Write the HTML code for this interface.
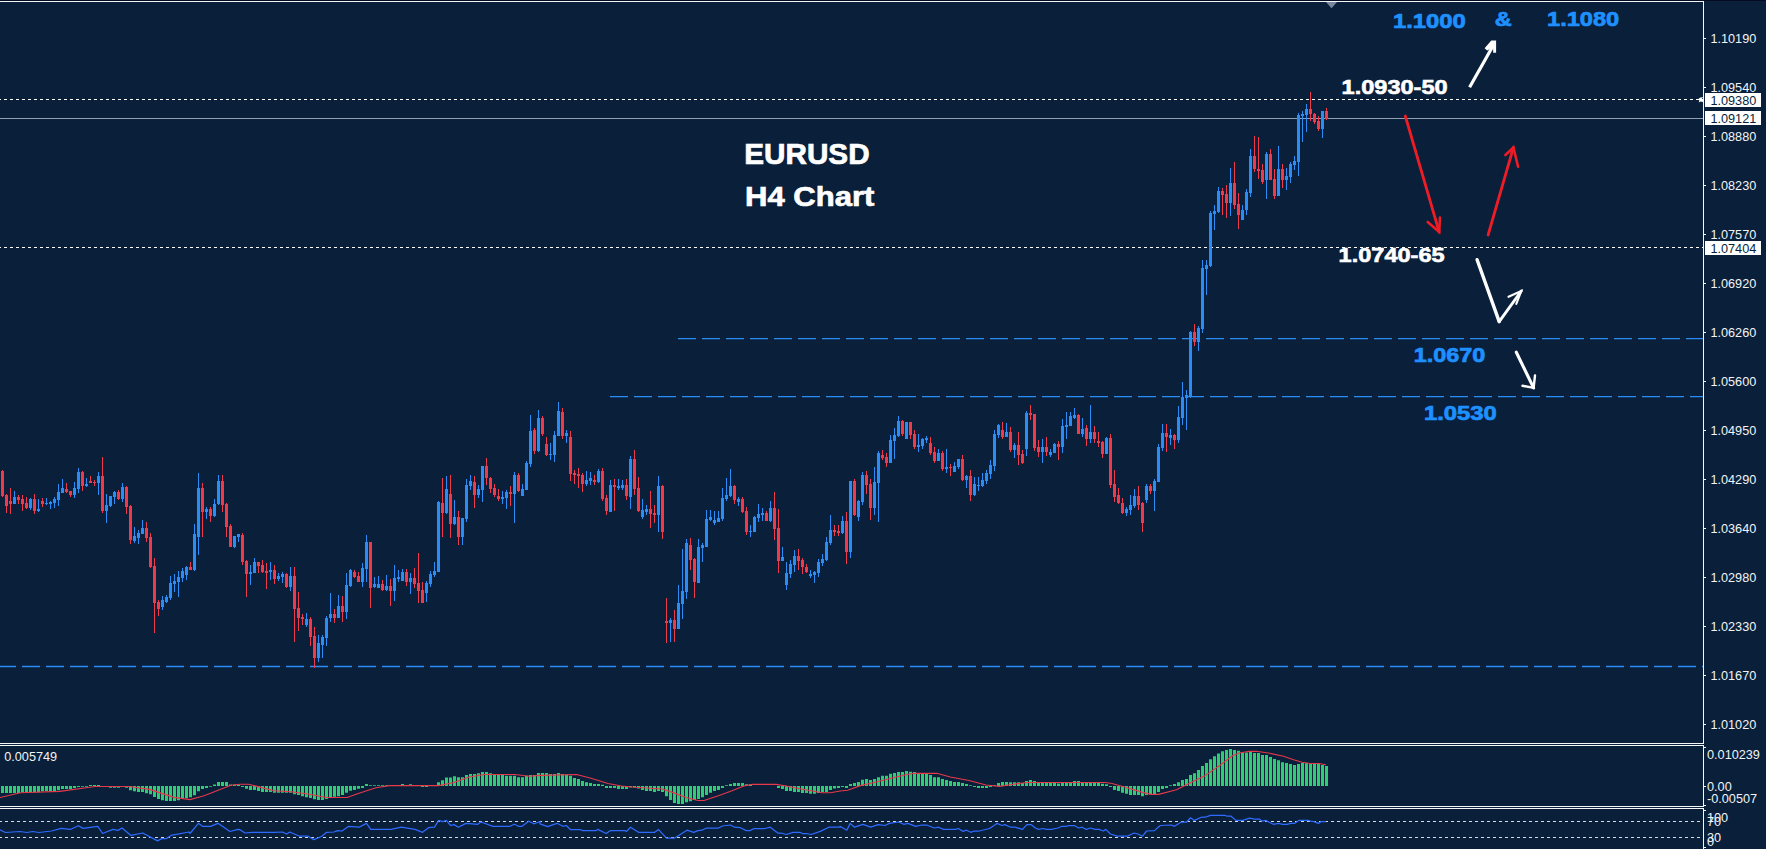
<!DOCTYPE html>
<html><head><meta charset="utf-8"><title>EURUSD H4 Chart</title>
<style>html,body{margin:0;padding:0;background:#091f3a;overflow:hidden}body{width:1766px;height:849px;font-family:"Liberation Sans",sans-serif}svg{display:block;position:absolute;left:0;top:0}text{font-family:"Liberation Sans",sans-serif}.ax{font-size:12.7px;fill:#f2f4f6}.axd{font-size:12.7px;fill:#091f3a}.wb{font-weight:bold;fill:#fff;stroke:#fff;stroke-width:0.6px}.bb{font-weight:bold;fill:#1e90ff;stroke:#1e90ff;stroke-width:0.7px}</style>
</head><body>
<svg width="1766" height="849" viewBox="0 0 1766 849">
<rect x="0" y="0" width="1766" height="849" fill="#091f3a"/>
<rect x="0" y="0" width="1766" height="1" fill="#030c22"/>
<g shape-rendering="crispEdges">
<line x1="-2" y1="99.5" x2="1703" y2="99.5" stroke="#fff" stroke-width="1" stroke-dasharray="3 3"/>
<line x1="-2" y1="247.5" x2="1703" y2="247.5" stroke="#fff" stroke-width="1" stroke-dasharray="3 3"/>
<line x1="0" y1="118.5" x2="1703" y2="118.5" stroke="#929eb2" stroke-width="1"/>
</g>
<g stroke="#2a8cf4" stroke-width="1.4" stroke-dasharray="18 6">
<line x1="678" y1="338.6" x2="1703" y2="338.6"/>
<line x1="610" y1="396.6" x2="1703" y2="396.6"/>
<line x1="-2" y1="666.5" x2="1703" y2="666.5"/>
</g>
<g shape-rendering="crispEdges">
<path d="M14 491v13M30 498v12M38 499v13M46 498v7M50 501v8M54 497v11M58 484v22M62 479v14M74 482v16M78 468v25M86 478v9M98 472v23M106 494v29M110 496v11M114 491v13M122 483v19M134 527v16M138 530v14M142 520v14M162 596v14M166 595v8M170 576v24M174 574v18M178 571v26M182 568v14M186 566v14M194 524v47M198 473v82M206 507v12M214 499v18M218 475v30M234 536v12M238 534v8M250 565v20M254 558v15M270 562v18M278 573v8M282 572v11M290 567v24M306 613v14M318 635v27M322 635v23M326 616v30M330 593v29M338 595v23M346 573v46M350 569v18M362 563v24M366 535v47M374 577v11M378 576v12M386 575v16M394 565v36M398 570v12M402 569v12M410 573v21M426 581v21M430 571v16M434 562v15M438 501v71M446 476v38M454 500v25M462 518v27M466 479v43M470 475v15M478 485v13M482 466v36M502 491v13M506 490v19M514 472v51M522 484v12M526 461v29M530 415v52M538 410v42M550 443v17M554 431v31M558 402v34M566 430v13M586 471v15M590 472v13M598 469v14M610 480v32M618 479v11M622 480v10M630 456v53M642 499v20M646 505v10M658 476v56M670 618v24M678 585v44M682 549v70M686 539v60M698 539v44M702 543v19M706 510v37M710 510v11M714 511v14M718 511v11M722 488v33M726 478v23M730 469v28M738 497v9M750 525v12M754 516v16M758 504v18M762 508v13M770 501v21M782 547v14M786 562v28M790 560v18M794 550v22M810 570v8M814 571v12M818 559v18M822 554v12M826 537v24M830 515v30M842 516v18M850 481v77M858 500v21M862 472v33M874 467v48M878 451v71M890 435v28M894 428v31M898 416v21M906 422v17M918 434v18M922 438v11M926 436v7M938 449v12M946 449v24M954 462v10M958 459v10M966 475v13M974 477v19M978 477v14M982 473v14M986 470v14M990 460v19M994 430v41M998 424v14M1006 423v14M1014 443v15M1026 411v45M1042 439v24M1050 449v8M1054 443v10M1062 419v34M1066 412v27M1070 412v14M1074 408v11M1082 418v19M1090 405v38M1106 437v17M1126 507v9M1130 495v20M1134 489v19M1146 484v19M1154 479v32M1158 444v38M1162 424v27M1170 429v16M1178 406v37M1182 382v43M1186 390v40M1190 331v67M1198 326v25M1202 260v73M1206 260v35M1210 211v56M1214 205v25M1218 187v26M1230 168v48M1242 205v15M1246 189v26M1250 149v48M1266 152v47M1278 146v50M1286 168v22M1290 162v21M1294 156v14M1298 113v63M1302 111v31M1306 104v28M1322 111v27" stroke="#2a8cf4" stroke-width="1" fill="none" transform="translate(0.5,0)"/>
<path d="M2 470v27M6 494v19M10 488v26M18 495v9M22 495v16M26 497v12M34 494v20M42 498v9M66 483v10M70 491v6M82 471v20M90 476v7M94 480v6M102 457v56M118 490v10M126 486v28M130 505v39M146 522v20M150 533v35M154 558v75M158 600v16M190 562v8M202 483v54M210 507v15M222 475v37M226 503v34M230 524v23M242 533v32M246 560v37M258 562v11M262 560v13M266 563v26M274 565v19M286 573v15M294 567v75M298 592v39M302 614v11M310 617v29M314 627v41M334 609v14M342 596v26M354 570v8M358 572v10M370 542v66M382 580v11M390 579v27M406 569v17M414 568v20M418 553v50M422 582v21M442 478v59M450 475v63M458 511v34M474 476v32M486 458v27M490 477v16M494 484v13M498 489v12M510 486v20M518 473v19M534 428v26M542 416v20M546 437v19M562 408v31M570 431v50M574 470v14M578 468v20M582 473v19M594 475v10M602 468v33M606 495v20M614 479v32M626 479v21M634 450v45M638 477v35M650 491v37M654 505v18M662 485v54M666 598v45M674 610v32M690 538v32M694 558v40M734 485v19M742 497v16M746 507v28M766 511v10M774 492v48M778 509v64M798 549v21M802 558v16M806 564v9M834 525v11M838 525v11M846 512v52M854 479v37M866 471v23M870 479v41M882 450v10M886 453v14M902 420v16M910 422v17M914 430v19M930 437v18M934 447v16M942 451v20M950 464v12M962 455v26M970 470v31M1002 422v17M1010 427v25M1018 432v33M1022 450v14M1030 405v15M1034 414v37M1038 440v17M1046 437v19M1058 441v19M1078 414v20M1086 425v21M1094 426v17M1098 432v15M1102 441v17M1110 434v54M1114 470v32M1118 488v16M1122 498v16M1138 486v24M1142 502v30M1150 484v10M1166 424v28M1174 434v15M1194 324v22M1222 188v27M1226 185v33M1234 162v47M1238 193v36M1254 136v36M1258 137v42M1262 164v20M1270 149v31M1274 169v30M1282 164v24M1310 92v29M1314 113v11M1318 116v15M1326 108v12" stroke="#ee3a4a" stroke-width="1" fill="none" transform="translate(0.5,0)"/>
<path d="M13 497h3v7h-3zM29 499h3v9h-3zM37 509h3v2h-3zM45 503h3v1h-3zM49 502h3v2h-3zM53 499h3v4h-3zM57 492h3v8h-3zM61 488h3v5h-3zM73 488h3v7h-3zM77 472h3v17h-3zM85 484h3v2h-3zM97 476h3v7h-3zM105 505h3v6h-3zM109 496h3v10h-3zM113 492h3v5h-3zM121 487h3v12h-3zM133 536h3v5h-3zM137 533h3v5h-3zM141 528h3v6h-3zM161 600h3v7h-3zM165 597h3v5h-3zM169 583h3v15h-3zM173 581h3v3h-3zM177 577h3v5h-3zM181 571h3v7h-3zM185 567h3v8h-3zM193 534h3v36h-3zM197 488h3v49h-3zM205 509h3v3h-3zM213 504h3v12h-3zM217 481h3v23h-3zM233 536h3v11h-3zM237 534h3v3h-3zM249 572h3v2h-3zM253 562h3v11h-3zM269 570h3v2h-3zM277 576h3v3h-3zM281 574h3v3h-3zM289 576h3v11h-3zM305 619h3v6h-3zM317 643h3v15h-3zM321 637h3v8h-3zM325 618h3v20h-3zM329 614h3v4h-3zM337 606h3v12h-3zM345 585h3v27h-3zM349 570h3v16h-3zM361 568h3v14h-3zM365 542h3v27h-3zM373 584h3v3h-3zM377 584h3v4h-3zM385 586h3v4h-3zM393 578h3v13h-3zM397 577h3v2h-3zM401 572h3v9h-3zM409 578h3v4h-3zM425 583h3v10h-3zM429 574h3v10h-3zM433 571h3v4h-3zM437 502h3v70h-3zM445 489h3v24h-3zM453 517h3v7h-3zM461 518h3v19h-3zM465 485h3v34h-3zM469 481h3v5h-3zM477 489h3v6h-3zM481 466h3v24h-3zM501 497h3v2h-3zM505 492h3v6h-3zM513 475h3v19h-3zM521 489h3v7h-3zM525 463h3v27h-3zM529 431h3v33h-3zM537 418h3v33h-3zM549 454h3v1h-3zM553 435h3v20h-3zM557 411h3v25h-3zM565 433h3v3h-3zM585 480h3v4h-3zM589 478h3v3h-3zM597 471h3v11h-3zM609 485h3v27h-3zM617 486h3v2h-3zM621 485h3v3h-3zM629 459h3v38h-3zM641 510h3v7h-3zM645 509h3v3h-3zM657 486h3v29h-3zM669 620h3v3h-3zM677 603h3v26h-3zM681 591h3v13h-3zM685 543h3v49h-3zM697 547h3v36h-3zM701 545h3v3h-3zM705 519h3v28h-3zM709 517h3v3h-3zM713 520h3v3h-3zM717 518h3v4h-3zM721 498h3v21h-3zM725 495h3v4h-3zM729 486h3v10h-3zM737 499h3v3h-3zM749 531h3v1h-3zM753 517h3v15h-3zM757 514h3v4h-3zM761 513h3v2h-3zM769 508h3v13h-3zM781 557h3v4h-3zM785 573h3v12h-3zM789 564h3v10h-3zM793 556h3v9h-3zM809 574h3v2h-3zM813 572h3v3h-3zM817 562h3v11h-3zM821 559h3v4h-3zM825 542h3v18h-3zM829 530h3v13h-3zM841 521h3v12h-3zM849 481h3v71h-3zM857 501h3v16h-3zM861 475h3v27h-3zM873 482h3v26h-3zM877 453h3v30h-3zM889 440h3v23h-3zM893 435h3v6h-3zM897 421h3v15h-3zM905 422h3v17h-3zM917 445h3v2h-3zM921 439h3v7h-3zM925 438h3v2h-3zM937 453h3v8h-3zM945 467h3v2h-3zM953 466h3v6h-3zM957 459h3v8h-3zM965 476h3v4h-3zM973 484h3v11h-3zM977 485h3v1h-3zM981 480h3v6h-3zM985 473h3v8h-3zM989 465h3v9h-3zM993 434h3v32h-3zM997 425h3v10h-3zM1005 432h3v5h-3zM1013 445h3v5h-3zM1025 413h3v36h-3zM1041 447h3v5h-3zM1049 452h3v3h-3zM1053 444h3v9h-3zM1061 426h3v21h-3zM1065 425h3v2h-3zM1069 416h3v10h-3zM1073 415h3v3h-3zM1081 429h3v5h-3zM1089 432h3v7h-3zM1105 438h3v16h-3zM1125 509h3v4h-3zM1129 505h3v5h-3zM1133 496h3v10h-3zM1145 486h3v14h-3zM1153 481h3v10h-3zM1157 447h3v35h-3zM1161 433h3v15h-3zM1169 435h3v3h-3zM1177 417h3v23h-3zM1181 397h3v21h-3zM1185 395h3v3h-3zM1189 332h3v65h-3zM1197 328h3v14h-3zM1201 268h3v61h-3zM1205 265h3v4h-3zM1209 213h3v53h-3zM1213 211h3v3h-3zM1217 191h3v21h-3zM1229 183h3v20h-3zM1241 210h3v10h-3zM1245 192h3v18h-3zM1249 156h3v37h-3zM1265 154h3v26h-3zM1277 169h3v27h-3zM1285 176h3v4h-3zM1289 164h3v13h-3zM1293 161h3v4h-3zM1297 115h3v47h-3zM1301 114h3v2h-3zM1305 109h3v6h-3zM1321 111h3v18h-3z" fill="#2a8cf4"/>
<path d="M1 471h3v25h-3zM5 495h3v11h-3zM9 501h3v3h-3zM17 497h3v3h-3zM21 499h3v5h-3zM25 503h3v5h-3zM33 499h3v12h-3zM41 501h3v3h-3zM65 489h3v3h-3zM69 491h3v4h-3zM81 472h3v14h-3zM89 481h3v2h-3zM93 482h3v1h-3zM101 476h3v35h-3zM117 492h3v7h-3zM125 487h3v20h-3zM129 506h3v34h-3zM145 528h3v10h-3zM149 537h3v30h-3zM153 566h3v37h-3zM157 602h3v7h-3zM189 567h3v3h-3zM201 488h3v24h-3zM209 509h3v7h-3zM221 481h3v24h-3zM225 504h3v23h-3zM229 526h3v21h-3zM241 535h3v27h-3zM245 561h3v13h-3zM257 562h3v4h-3zM261 565h3v7h-3zM265 571h3v2h-3zM273 570h3v9h-3zM285 574h3v13h-3zM293 576h3v33h-3zM297 608h3v10h-3zM301 617h3v2h-3zM309 619h3v18h-3zM313 636h3v22h-3zM333 614h3v4h-3zM341 606h3v6h-3zM353 572h3v5h-3zM357 576h3v6h-3zM369 542h3v46h-3zM381 584h3v6h-3zM389 586h3v5h-3zM405 572h3v10h-3zM413 578h3v6h-3zM417 583h3v8h-3zM421 590h3v13h-3zM441 503h3v10h-3zM449 494h3v30h-3zM457 517h3v20h-3zM473 482h3v13h-3zM485 466h3v12h-3zM489 478h3v11h-3zM493 488h3v7h-3zM497 496h3v3h-3zM509 492h3v2h-3zM517 475h3v16h-3zM533 430h3v21h-3zM541 418h3v16h-3zM545 444h3v11h-3zM561 412h3v24h-3zM569 437h3v37h-3zM573 473h3v2h-3zM577 474h3v2h-3zM581 475h3v9h-3zM593 480h3v2h-3zM601 471h3v28h-3zM605 498h3v13h-3zM613 485h3v2h-3zM625 485h3v11h-3zM633 459h3v30h-3zM637 488h3v23h-3zM649 509h3v5h-3zM653 513h3v2h-3zM661 486h3v46h-3zM665 621h3v2h-3zM673 620h3v9h-3zM689 545h3v15h-3zM693 559h3v23h-3zM733 486h3v14h-3zM741 499h3v13h-3zM745 511h3v21h-3zM765 513h3v8h-3zM773 508h3v21h-3zM777 528h3v33h-3zM797 556h3v5h-3zM801 560h3v7h-3zM805 567h3v5h-3zM833 530h3v2h-3zM837 531h3v2h-3zM845 521h3v31h-3zM853 481h3v34h-3zM865 475h3v10h-3zM869 484h3v24h-3zM881 455h3v3h-3zM885 457h3v6h-3zM901 421h3v13h-3zM909 422h3v13h-3zM913 434h3v13h-3zM929 443h3v10h-3zM933 452h3v9h-3zM941 453h3v16h-3zM949 467h3v1h-3zM961 459h3v21h-3zM969 476h3v19h-3zM1001 430h3v7h-3zM1009 432h3v18h-3zM1017 445h3v10h-3zM1021 454h3v9h-3zM1029 413h3v2h-3zM1033 414h3v34h-3zM1037 447h3v5h-3zM1045 447h3v5h-3zM1057 444h3v3h-3zM1077 415h3v19h-3zM1085 428h3v11h-3zM1093 432h3v7h-3zM1097 441h3v2h-3zM1101 442h3v12h-3zM1109 438h3v47h-3zM1113 484h3v13h-3zM1117 495h3v8h-3zM1121 503h3v10h-3zM1137 496h3v9h-3zM1141 503h3v20h-3zM1149 486h3v5h-3zM1165 433h3v4h-3zM1173 435h3v5h-3zM1193 332h3v10h-3zM1221 191h3v4h-3zM1225 194h3v9h-3zM1233 183h3v22h-3zM1237 204h3v11h-3zM1253 156h3v13h-3zM1257 169h3v2h-3zM1261 170h3v12h-3zM1269 154h3v26h-3zM1273 179h3v17h-3zM1281 169h3v11h-3zM1309 109h3v5h-3zM1313 114h3v8h-3zM1317 121h3v8h-3zM1325 111h3v8h-3z" fill="#ee3a4a"/>
</g>
<path d="M1 786h3v6.9h-3zM5 786h3v6.9h-3zM9 786h3v6.9h-3zM13 786h3v6.9h-3zM17 786h3v6.9h-3zM21 786h3v6.3h-3zM25 786h3v6.3h-3zM29 786h3v6.3h-3zM33 786h3v6.3h-3zM37 786h3v6.3h-3zM41 786h3v5.2h-3zM45 786h3v4.9h-3zM49 786h3v4.9h-3zM53 786h3v4.9h-3zM57 786h3v4.2h-3zM61 786h3v3.1h-3zM65 786h3v3.1h-3zM69 786h3v3.1h-3zM73 786h3v2.0h-3zM77 786h3v1.0h-3zM81 786h3v0.8h-3zM85 786h3v0.8h-3zM89 785.0h3v1.0h-3zM93 785.0h3v1.0h-3zM97 785.0h3v1.0h-3zM109 786h3v1.8h-3zM113 786h3v1.8h-3zM117 786h3v1.8h-3zM125 786h3v1.8h-3zM129 786h3v4.2h-3zM133 786h3v5.2h-3zM137 786h3v6.1h-3zM141 786h3v6.1h-3zM145 786h3v7.2h-3zM149 786h3v8.3h-3zM153 786h3v11.0h-3zM157 786h3v13.0h-3zM161 786h3v14.3h-3zM165 786h3v15.1h-3zM169 786h3v15.1h-3zM173 786h3v15.1h-3zM177 786h3v14.3h-3zM181 786h3v12.9h-3zM185 786h3v12.2h-3zM189 786h3v11.3h-3zM193 786h3v9.2h-3zM197 786h3v5.2h-3zM201 786h3v3.1h-3zM205 786h3v2.0h-3zM209 786h3v0.8h-3zM213 784.4h3v1.6h-3zM217 782.1h3v3.9h-3zM221 782.1h3v3.9h-3zM225 782.1h3v3.9h-3zM229 784.4h3v1.6h-3zM233 784.4h3v1.6h-3zM237 784.8h3v1.2h-3zM241 786h3v1.0h-3zM245 786h3v2.7h-3zM249 786h3v3.9h-3zM253 786h3v3.9h-3zM257 786h3v5.0h-3zM261 786h3v5.9h-3zM265 786h3v5.9h-3zM269 786h3v5.9h-3zM273 786h3v6.8h-3zM277 786h3v6.8h-3zM281 786h3v6.8h-3zM285 786h3v6.8h-3zM289 786h3v6.8h-3zM293 786h3v8.2h-3zM297 786h3v9.0h-3zM301 786h3v10.2h-3zM305 786h3v11.2h-3zM309 786h3v11.9h-3zM313 786h3v13.2h-3zM317 786h3v14.1h-3zM321 786h3v14.1h-3zM325 786h3v12.9h-3zM329 786h3v11.5h-3zM333 786h3v10.7h-3zM337 786h3v10.2h-3zM341 786h3v9.0h-3zM345 786h3v6.8h-3zM349 786h3v4.8h-3zM353 786h3v3.9h-3zM357 786h3v2.7h-3zM361 786h3v1.9h-3zM365 784.0h3v2.0h-3zM369 785.2h3v0.8h-3zM373 785.2h3v0.8h-3zM377 785.2h3v0.8h-3zM381 785.2h3v0.8h-3zM385 785.2h3v0.8h-3zM401 784.0h3v2.0h-3zM409 784.3h3v1.7h-3zM421 786h3v1.0h-3zM425 786h3v1.0h-3zM437 782.3h3v3.7h-3zM441 780.2h3v5.8h-3zM445 777.5h3v8.5h-3zM449 777.5h3v8.5h-3zM453 776.3h3v9.7h-3zM457 777.2h3v8.8h-3zM461 777.2h3v8.8h-3zM465 775.1h3v10.9h-3zM469 774.1h3v11.9h-3zM473 774.1h3v11.9h-3zM477 773.3h3v12.7h-3zM481 772.1h3v13.9h-3zM485 772.1h3v13.9h-3zM489 773.3h3v12.7h-3zM493 774.6h3v11.4h-3zM497 774.6h3v11.4h-3zM501 774.6h3v11.4h-3zM505 775.8h3v10.2h-3zM509 775.8h3v10.2h-3zM513 775.8h3v10.2h-3zM517 777.2h3v8.8h-3zM521 777.2h3v8.8h-3zM525 775.8h3v10.2h-3zM529 775.1h3v10.9h-3zM533 775.1h3v10.9h-3zM537 773.0h3v13.0h-3zM541 772.9h3v13.1h-3zM545 772.9h3v13.1h-3zM549 774.1h3v11.9h-3zM553 774.1h3v11.9h-3zM557 772.9h3v13.1h-3zM561 774.1h3v11.9h-3zM565 774.6h3v11.4h-3zM569 775.8h3v10.2h-3zM573 778.0h3v8.0h-3zM577 778.9h3v7.1h-3zM581 780.9h3v5.1h-3zM585 782.3h3v3.7h-3zM589 783.1h3v2.9h-3zM593 784.0h3v2.0h-3zM597 784.0h3v2.0h-3zM601 784.8h3v1.2h-3zM605 786h3v1.9h-3zM609 786h3v1.9h-3zM613 786h3v1.9h-3zM617 786h3v3.1h-3zM621 786h3v3.1h-3zM625 786h3v3.1h-3zM629 786h3v1.4h-3zM633 786h3v1.4h-3zM637 786h3v2.5h-3zM641 786h3v3.9h-3zM645 786h3v5.1h-3zM649 786h3v5.1h-3zM653 786h3v6.1h-3zM657 786h3v5.1h-3zM661 786h3v6.1h-3zM665 786h3v10.2h-3zM669 786h3v14.1h-3zM673 786h3v17.0h-3zM677 786h3v18.0h-3zM681 786h3v18.0h-3zM685 786h3v16.3h-3zM689 786h3v15.3h-3zM693 786h3v14.1h-3zM697 786h3v12.9h-3zM701 786h3v11.2h-3zM705 786h3v9.0h-3zM709 786h3v6.8h-3zM713 786h3v5.1h-3zM717 786h3v3.9h-3zM721 786h3v1.9h-3zM725 785.2h3v0.8h-3zM729 784.0h3v2.0h-3zM733 783.1h3v2.9h-3zM737 783.1h3v2.9h-3zM741 783.1h3v2.9h-3zM745 784.3h3v1.7h-3zM749 784.3h3v1.7h-3zM777 786h3v1.9h-3zM781 786h3v3.1h-3zM785 786h3v5.1h-3zM789 786h3v5.1h-3zM793 786h3v6.1h-3zM797 786h3v6.1h-3zM801 786h3v7.0h-3zM805 786h3v7.0h-3zM809 786h3v7.8h-3zM813 786h3v7.8h-3zM817 786h3v7.0h-3zM821 786h3v6.1h-3zM825 786h3v6.1h-3zM829 786h3v3.9h-3zM833 786h3v2.5h-3zM837 786h3v1.9h-3zM841 786h3v1.0h-3zM845 786h3v1.9h-3zM849 784.0h3v2.0h-3zM853 783.1h3v2.9h-3zM857 781.9h3v4.1h-3zM861 779.7h3v6.3h-3zM865 778.9h3v7.1h-3zM869 780.1h3v5.9h-3zM873 778.9h3v7.1h-3zM877 777.2h3v8.8h-3zM881 775.8h3v10.2h-3zM885 775.8h3v10.2h-3zM889 773.8h3v12.2h-3zM893 772.9h3v13.1h-3zM897 772.1h3v13.9h-3zM901 772.1h3v13.9h-3zM905 770.9h3v15.1h-3zM909 771.7h3v14.3h-3zM913 772.1h3v13.9h-3zM917 773.3h3v12.7h-3zM921 773.3h3v12.7h-3zM925 774.1h3v11.9h-3zM929 775.1h3v10.9h-3zM933 777.2h3v8.8h-3zM937 777.2h3v8.8h-3zM941 778.9h3v7.1h-3zM945 780.1h3v5.9h-3zM949 780.9h3v5.1h-3zM953 781.9h3v4.1h-3zM957 781.9h3v4.1h-3zM961 783.1h3v2.9h-3zM965 784.0h3v2.0h-3zM969 785.2h3v0.8h-3zM973 786h3v1.0h-3zM977 786h3v1.9h-3zM981 786h3v1.9h-3zM985 786h3v1.9h-3zM989 786h3v1.0h-3zM993 785.2h3v0.8h-3zM997 783.1h3v2.9h-3zM1001 781.9h3v4.1h-3zM1005 781.9h3v4.1h-3zM1009 782.3h3v3.7h-3zM1013 782.3h3v3.7h-3zM1017 782.3h3v3.7h-3zM1021 783.1h3v2.9h-3zM1025 780.9h3v5.1h-3zM1029 780.1h3v5.9h-3zM1033 780.9h3v5.1h-3zM1037 781.9h3v4.1h-3zM1041 782.3h3v3.7h-3zM1045 782.3h3v3.7h-3zM1049 782.3h3v3.7h-3zM1053 783.1h3v2.9h-3zM1057 783.6h3v2.4h-3zM1061 782.6h3v3.4h-3zM1065 781.9h3v4.1h-3zM1069 781.9h3v4.1h-3zM1073 780.9h3v5.1h-3zM1077 780.9h3v5.1h-3zM1081 781.9h3v4.1h-3zM1085 782.3h3v3.7h-3zM1089 782.3h3v3.7h-3zM1093 782.3h3v3.7h-3zM1097 782.6h3v3.4h-3zM1101 783.8h3v2.2h-3zM1105 784.2h3v1.8h-3zM1109 786h3v1.0h-3zM1113 786h3v3.9h-3zM1117 786h3v5.1h-3zM1121 786h3v6.8h-3zM1125 786h3v7.8h-3zM1129 786h3v9.0h-3zM1133 786h3v9.0h-3zM1137 786h3v9.0h-3zM1141 786h3v10.2h-3zM1145 786h3v9.0h-3zM1149 786h3v8.2h-3zM1153 786h3v8.2h-3zM1157 786h3v6.1h-3zM1161 786h3v3.1h-3zM1165 786h3v1.9h-3zM1169 785.2h3v0.8h-3zM1173 784.0h3v2.0h-3zM1177 782.3h3v3.7h-3zM1181 780.1h3v5.9h-3zM1185 778.9h3v7.1h-3zM1189 775.1h3v10.9h-3zM1193 773.3h3v12.7h-3zM1197 769.9h3v16.1h-3zM1201 766.1h3v19.9h-3zM1205 763.1h3v22.9h-3zM1209 759.3h3v26.7h-3zM1213 756.3h3v29.7h-3zM1217 753.4h3v32.6h-3zM1221 751.2h3v34.8h-3zM1225 750.0h3v36.0h-3zM1229 749.1h3v36.9h-3zM1233 750.0h3v36.0h-3zM1237 750.8h3v35.2h-3zM1241 752.5h3v33.5h-3zM1245 752.5h3v33.5h-3zM1249 751.7h3v34.3h-3zM1253 752.9h3v33.1h-3zM1257 752.9h3v33.1h-3zM1261 755.1h3v30.9h-3zM1265 755.1h3v30.9h-3zM1269 757.1h3v28.9h-3zM1273 759.0h3v27.0h-3zM1277 760.2h3v25.8h-3zM1281 762.2h3v23.8h-3zM1285 763.1h3v22.9h-3zM1289 764.1h3v21.9h-3zM1293 764.9h3v21.1h-3zM1297 764.1h3v21.9h-3zM1301 763.1h3v22.9h-3zM1305 763.1h3v22.9h-3zM1309 763.9h3v22.1h-3zM1313 763.9h3v22.1h-3zM1317 763.9h3v22.1h-3zM1321 764.9h3v21.1h-3zM1325 766.1h3v19.9h-3z" fill="#2fcc71"/>
<polyline points="0.0,797.5 20.4,792.8 59.8,791.4 95.0,786.5 129.0,786.5 149.5,789.4 174.0,797.4 190.0,799.6 204.0,795.8 231.0,785.2 240.0,784.2 248.5,784.2 257.0,786.4 274.0,790.7 291.0,791.8 308.0,794.0 326.6,797.5 347.0,797.5 359.0,793.2 376.0,787.8 389.5,785.6 438.7,785.6 454.0,782.5 469.0,777.0 484.6,774.5 515.0,774.5 529.0,776.2 540.0,775.4 576.5,774.5 591.0,778.3 608.0,783.5 621.5,786.0 635.0,787.3 662.3,789.0 672.5,792.4 686.0,797.5 698.0,800.5 704.0,800.5 718.4,795.8 732.0,790.7 743.8,786.0 752.3,784.4 776.0,784.4 786.3,786.0 805.0,789.8 822.0,792.7 830.5,792.7 840.0,791.0 847.6,790.3 860.4,785.6 874.0,782.5 891.0,778.3 908.0,774.2 914.7,773.3 936.8,773.3 950.4,777.0 969.0,780.5 986.0,785.0 999.7,786.4 1010.0,784.7 1026.9,782.5 1105.0,782.5 1112.0,783.5 1125.5,787.3 1142.5,792.4 1151.0,794.4 1158.6,794.4 1176.4,789.8 1190.0,783.0 1205.3,775.4 1219.0,766.0 1232.5,755.8 1239.3,753.0 1249.5,751.3 1256.3,751.3 1270.0,753.3 1283.5,756.3 1293.6,759.7 1302.0,762.3 1310.6,763.5 1319.0,763.5 1326.0,764.7" fill="none" stroke="#e8384a" stroke-width="1.15" stroke-linejoin="round"/>
<g shape-rendering="crispEdges">
<line x1="-1" y1="821.5" x2="1703" y2="821.5" stroke="#d8dce2" stroke-width="1" stroke-dasharray="3 3"/>
<line x1="-1" y1="837.5" x2="1703" y2="837.5" stroke="#d8dce2" stroke-width="1" stroke-dasharray="3 3"/>
</g>
<polyline points="0.0,829.7 5.4,832.5 20.0,831.5 27.0,832.5 32.6,831.5 39.0,832.5 51.6,831.0 61.0,828.4 70.7,829.3 78.5,825.7 83.0,828.4 97.8,826.3 102.6,833.5 112.8,829.3 118.0,830.4 122.0,828.0 131.0,835.4 142.7,833.0 157.6,840.9 161.7,838.6 166.5,838.6 171.0,835.4 189.0,832.0 190.0,833.5 198.4,823.3 202.5,826.3 210.6,826.3 218.0,823.3 230.0,831.5 237.8,829.3 240.0,829.7 245.0,833.0 252.0,832.3 274.0,832.3 282.5,832.0 286.7,834.0 289.8,832.0 299.5,836.2 308.0,836.2 313.9,839.6 321.5,836.5 326.6,832.3 334.0,832.0 337.7,830.6 342.0,831.0 348.7,826.3 359.0,827.2 366.5,823.4 370.8,829.4 391.0,829.4 401.4,827.2 415.0,829.4 422.6,832.3 428.5,827.7 434.5,827.2 438.7,820.4 443.0,821.7 446.4,820.4 450.6,825.5 454.0,824.6 458.3,827.2 466.0,823.4 477.8,824.3 481.0,822.0 493.0,826.3 510.0,826.3 514.3,824.3 518.6,826.3 522.0,826.3 528.8,821.2 533.9,823.8 540.0,821.5 540.0,823.8 547.6,826.7 557.0,823.3 563.0,826.3 566.3,825.5 570.6,829.7 580.8,829.7 582.5,830.6 596.0,830.6 597.8,829.4 606.2,833.5 610.5,830.6 625.0,830.6 626.6,831.4 630.5,827.2 638.5,832.3 654.7,832.3 658.4,829.4 666.5,838.2 674.2,838.2 687.0,830.2 693.7,832.3 698.0,830.6 702.0,830.2 706.5,828.0 718.4,828.0 722.6,826.0 730.3,825.0 734.5,827.2 740.4,827.7 746.4,830.6 750.0,830.6 754.0,828.5 765.0,828.5 770.2,827.2 777.8,833.0 781.0,833.0 786.3,834.5 793.0,832.3 800.0,832.3 802.4,833.5 806.7,833.5 811.0,834.5 820.3,831.4 828.8,827.2 840.0,827.2 840.0,826.3 846.8,830.2 850.2,823.4 854.4,827.2 863.0,824.3 870.6,827.2 878.2,824.6 885.0,825.5 889.3,823.4 898.6,822.0 903.7,824.3 908.0,823.4 915.6,826.3 921.5,825.0 926.6,825.0 934.3,828.0 938.5,827.2 943.6,829.4 955.5,829.4 958.4,828.5 963.0,831.4 966.5,830.2 970.8,832.3 974.0,831.0 979.3,831.0 989.5,828.5 997.0,823.4 1002.0,825.5 1004.8,824.6 1010.7,827.2 1015.0,827.2 1022.6,829.4 1026.9,824.6 1031.0,824.6 1035.3,828.0 1038.7,829.4 1043.0,828.5 1046.4,829.4 1051.5,829.4 1058.0,828.0 1061.7,826.3 1066.0,826.3 1069.0,825.5 1074.4,825.5 1078.7,828.0 1082.0,827.2 1086.3,829.4 1090.5,828.0 1094.8,829.4 1099.0,829.4 1103.3,831.0 1105.8,829.4 1110.5,834.0 1117.0,836.2 1127.0,836.2 1134.0,833.0 1138.0,834.0 1142.5,836.2 1146.7,831.0 1154.4,830.6 1160.3,825.5 1171.3,825.0 1174.4,826.3 1181.5,822.0 1186.6,822.0 1190.5,817.8 1194.3,820.4 1202.0,817.0 1206.0,817.0 1210.4,815.3 1224.9,815.3 1226.5,816.0 1230.8,816.0 1235.9,820.4 1242.7,820.4 1249.5,818.2 1254.6,819.2 1259.7,819.2 1262.0,821.2 1265.6,820.4 1273.3,824.3 1278.4,823.4 1282.6,824.3 1286.9,824.3 1291.0,823.4 1294.5,823.4 1298.7,820.4 1308.0,820.4 1310.6,821.2 1314.0,821.7 1318.3,823.4 1320.8,821.7 1326.0,821.7" fill="none" stroke="#2f6bff" stroke-width="1.25" stroke-linejoin="round"/>
<g shape-rendering="crispEdges" fill="#f4f6f8">
<rect x="0" y="1" width="1704" height="1"/>
<rect x="1703" y="1" width="1" height="743"/>
<rect x="0" y="743" width="1704" height="1"/>
<rect x="0" y="745" width="1704" height="1"/>
<rect x="1703" y="745" width="1" height="62"/>
<rect x="0" y="806" width="1704" height="1"/>
<rect x="0" y="808" width="1704" height="1"/>
<rect x="1703" y="808" width="1" height="41"/>
<rect x="1704" y="38" width="2" height="1"/>
<rect x="1704" y="87" width="2" height="1"/>
<rect x="1704" y="136" width="2" height="1"/>
<rect x="1704" y="185" width="2" height="1"/>
<rect x="1704" y="234" width="2" height="1"/>
<rect x="1704" y="283" width="2" height="1"/>
<rect x="1704" y="332" width="2" height="1"/>
<rect x="1704" y="381" width="2" height="1"/>
<rect x="1704" y="430" width="2" height="1"/>
<rect x="1704" y="479" width="2" height="1"/>
<rect x="1704" y="528" width="2" height="1"/>
<rect x="1704" y="577" width="2" height="1"/>
<rect x="1704" y="626" width="2" height="1"/>
<rect x="1704" y="675" width="2" height="1"/>
<rect x="1704" y="724" width="2" height="1"/>
<rect x="1704" y="747" width="2" height="1"/>
<rect x="1704" y="786" width="2" height="1"/>
<rect x="1704" y="805" width="2" height="1"/>
<rect x="1704" y="810" width="2" height="1"/>
<rect x="1704" y="847" width="2" height="1"/>
</g>
<polygon points="1326,2 1337,2 1331.5,8.2" fill="#78879b"/>
<polygon points="1697.6,99.5 1700.3,97.5 1703,97.3 1703,102 1700.6,101.5 1698.7,102.4 1699.4,100.4" fill="#fff"/><rect x="1702" y="98" width="1" height="1" fill="#2a3a55"/>
<text class="ax" x="1710.4" y="43.2">1.10190</text>
<text class="ax" x="1710.4" y="92.2">1.09540</text>
<text class="ax" x="1710.4" y="141.2">1.08880</text>
<text class="ax" x="1710.4" y="190.2">1.08230</text>
<text class="ax" x="1710.4" y="239.2">1.07570</text>
<text class="ax" x="1710.4" y="288.2">1.06920</text>
<text class="ax" x="1710.4" y="337.2">1.06260</text>
<text class="ax" x="1710.4" y="386.2">1.05600</text>
<text class="ax" x="1710.4" y="435.2">1.04950</text>
<text class="ax" x="1710.4" y="484.2">1.04290</text>
<text class="ax" x="1710.4" y="533.2">1.03640</text>
<text class="ax" x="1710.4" y="582.2">1.02980</text>
<text class="ax" x="1710.4" y="631.2">1.02330</text>
<text class="ax" x="1710.4" y="680.2">1.01670</text>
<text class="ax" x="1710.4" y="729.2">1.01020</text>
<rect x="1705" y="93" width="56" height="14" fill="#fff" shape-rendering="crispEdges"/>
<text class="axd" x="1710.4" y="105.0">1.09380</text>
<rect x="1705" y="111" width="56" height="14" fill="#fff" shape-rendering="crispEdges"/>
<text class="axd" x="1710.4" y="123.0">1.09121</text>
<rect x="1705" y="241" width="56" height="14" fill="#fff" shape-rendering="crispEdges"/>
<text class="axd" x="1710.4" y="253.0">1.07404</text>
<text class="ax" x="1707" y="759">0.010239</text>
<text class="ax" x="1707" y="790.5">0.00</text>
<text class="ax" x="1707" y="803">-0.00507</text>
<text class="ax" x="1707" y="822">100</text>
<text class="ax" x="1707" y="826">70</text>
<text class="ax" x="1707" y="841.5">30</text>
<text class="ax" x="1707" y="846">0</text>
<text class="ax" x="4.2" y="761.3">0.005749</text>
<text class="wb" x="744.3" y="164.0" font-size="28.6" textLength="125.3" lengthAdjust="spacingAndGlyphs" style="stroke-width:0.7px">EURUSD</text>
<text class="wb" x="745.0" y="206.0" font-size="28.4" textLength="129.3" lengthAdjust="spacingAndGlyphs" style="stroke-width:0.7px">H4 Chart</text>
<text class="wb" x="1341.6" y="94.2" font-size="19.9" textLength="106.0" lengthAdjust="spacingAndGlyphs">1.0930-50</text>
<text class="wb" x="1338.6" y="262.2" font-size="19.9" textLength="106.0" lengthAdjust="spacingAndGlyphs">1.0740-65</text>
<text class="bb" x="1393.0" y="27.8" font-size="19.8" textLength="72.8" lengthAdjust="spacingAndGlyphs">1.1000</text>
<text class="bb" x="1494.8" y="26.3" font-size="20.5" textLength="17.0" lengthAdjust="spacingAndGlyphs">&amp;</text>
<text class="bb" x="1547.0" y="26.3" font-size="20.5" textLength="72.2" lengthAdjust="spacingAndGlyphs">1.1080</text>
<text class="bb" x="1413.8" y="362.0" font-size="20.0" textLength="71.5" lengthAdjust="spacingAndGlyphs">1.0670</text>
<text class="bb" x="1424.0" y="420.3" font-size="19.8" textLength="72.8" lengthAdjust="spacingAndGlyphs">1.0530</text>
<line x1="1469.6" y1="87.2" x2="1493.2" y2="45.5" stroke="#fff" stroke-width="3.2" stroke-linecap="butt"/>
<polygon points="1491.3,40.6 1496.1,40.6 1496.1,52.8 1493.2,52.8 1493.1,47 1487.2,50.4 1484.6,48.2" fill="#fff"/>
<g fill="none" stroke="#ee1c25" stroke-linecap="round" stroke-linejoin="miter">
<polyline stroke-width="2.8" points="1405.3,116.0 1439.2,232.0"/>
<polyline stroke-width="2.6" points="1427.7,222.0 1439.2,232.0 1440.0,217.5"/>
</g>
<g fill="none" stroke="#ee1c25" stroke-linecap="round" stroke-linejoin="miter">
<polyline stroke-width="2.8" points="1488.1,235.0 1513.4,147.5"/>
<polyline stroke-width="2.6" points="1505.4,155.0 1513.4,147.5 1518.1,166.8"/>
</g>
<polyline points="1477.1,259.7 1499.2,321.6" fill="none" stroke="#fff" stroke-width="3.4" stroke-linecap="round"/>
<g fill="none" stroke="#fff" stroke-linecap="round" stroke-linejoin="miter">
<polyline stroke-width="2.9" points="1499.2,321.6 1521.3,291.0"/>
<polyline stroke-width="2.1" points="1508.5,296.8 1521.3,291.0 1516.3,303.9"/>
</g>
<g fill="none" stroke="#fff" stroke-linecap="round" stroke-linejoin="miter">
<polyline stroke-width="3.1" points="1516.3,352.2 1533.6,387.9"/>
<polyline stroke-width="2.4" points="1522.5,385.8 1533.6,387.9 1535.0,375.5"/>
</g>
</svg>
</body></html>
